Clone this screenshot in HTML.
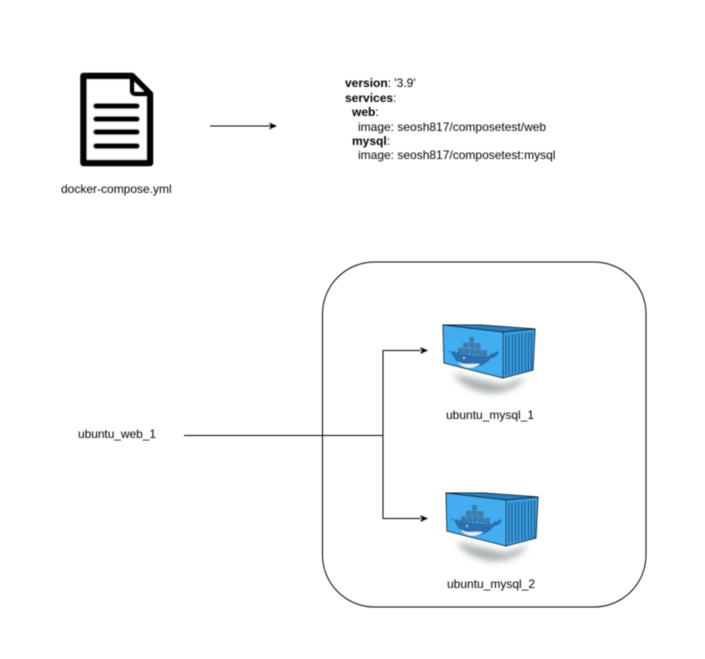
<!DOCTYPE html>
<html>
<head>
<meta charset="utf-8">
<style>
html,body{margin:0;padding:0;background:#fff;}
body{width:705px;height:659px;overflow:hidden;}
svg{display:block;}
text{font-family:"Liberation Sans",Arial,sans-serif;font-size:12px;fill:#000;}
</style>
</head>
<body>
<svg width="705" height="659" viewBox="0 0 705 659" xmlns="http://www.w3.org/2000/svg">
<defs>
<filter id="b" x="-30%" y="-80%" width="160%" height="260%"><feGaussianBlur stdDeviation="3.500"/></filter>
<filter id="all" filterUnits="userSpaceOnUse" x="0" y="0" width="705" height="659"><feGaussianBlur stdDeviation="0.4"/></filter>
<g id="box">
<path d="M10 49 L60 60 L82 52 Q72 68 46 68 Q22 65 10 49 Z" fill="#a9adad" filter="url(#b)"/>
<polygon points="0,0 60,7 60,53 1,38" fill="#42adf0" stroke="#08202f" stroke-width="1"/>
<polygon points="60,7 92,4 90,45 60,53" fill="#3a9fe2" stroke="#08202f" stroke-width="1"/>
<polygon points="0,0 60,7 92,4 38,0" fill="#2c7fb8" stroke="#08202f" stroke-width="1"/>
<g stroke="#154f7e" stroke-width="1.100" fill="none">
<path d="M63,10 L63,50 M66,9.700 L66,49.500 M69.500,9.400 L69.500,48.500 M72.500,9 L72.500,48 M76,8.700 L76,47.200 M79,8.400 L79,46.700 M82.500,8 L82.500,46 M85.500,7.700 L85.500,45.500 M88.500,7.400 L88.500,45"/>
</g>
<g fill="#3f7aa8">
<rect x="26" y="12" width="5" height="5"/>
<rect x="20" y="17.500" width="5.500" height="5.500"/>
<rect x="26" y="17.500" width="5.500" height="5.500"/>
<rect x="32" y="18" width="5.500" height="5.500"/>
<rect x="15" y="23" width="5.500" height="5"/>
<rect x="21" y="23.500" width="5.500" height="5"/>
<rect x="27" y="23.500" width="5.500" height="5"/>
<rect x="33" y="24" width="5.500" height="5"/>
<rect x="39" y="25" width="5" height="5"/>
</g>
<path d="M8,27 C20,29 38,31 46,31 C48,28 50,27 51,29 C53,25 57,26 55,29 C53,32 50,33 48,33 C43,41 31,44 23,42 C15,40 11,34 8,27 Z" fill="#2a6fae"/>
<path d="M14,36 C20,41 28,38 37,39 C31,44 20,45 14,36 Z" fill="#e3f1f9"/>
<path d="M5,26.500 L44,30" stroke="#1c4f7d" stroke-width="0.8" stroke-dasharray="3 1.500"/>
<circle cx="21" cy="33" r="0.900" fill="#d6ecf8"/>
</g>
</defs>

<g filter="url(#all)">
<!-- document icon -->
<path d="M83.500 76 H132 L150 94 V163 H83.500 Z" fill="#fff" stroke="#000" stroke-width="6.500" stroke-linejoin="round"/>
<path d="M132 76 V90 Q132 94 136 94 H150 Z" fill="#fff" stroke="#000" stroke-width="5" stroke-linejoin="round"/>
<g stroke="#000" stroke-width="5.500" stroke-linecap="round">
<line x1="96" y1="106" x2="137" y2="106"/>
<line x1="96" y1="119" x2="137" y2="119"/>
<line x1="96" y1="132" x2="137" y2="132"/>
<line x1="96" y1="146" x2="137" y2="146"/>
</g>
<text x="61" y="193">docker-compose.yml</text>

<!-- top arrow -->
<line x1="210" y1="126" x2="271" y2="126" stroke="#000" stroke-width="1"/>
<polygon points="277,126 269,122.500 271,126 269,129.500" fill="#000"/>

<!-- yaml -->
<text x="345" y="87"><tspan font-weight="bold">version</tspan>: '3.9'</text>
<text x="345" y="102"><tspan font-weight="bold">services</tspan>:</text>
<text x="352" y="116"><tspan font-weight="bold">web</tspan>:</text>
<text x="358" y="131">image: seosh817/composetest/web</text>
<text x="352" y="145"><tspan font-weight="bold">mysql</tspan>:</text>
<text x="358" y="159">image: seosh817/composetest:mysql</text>

<!-- rounded boundary -->
<rect x="322.500" y="262" width="323.500" height="345" rx="52" ry="52" fill="none" stroke="#000" stroke-width="1"/>

<!-- connectors -->
<text x="78" y="438" textLength="78">ubuntu_web_1</text>
<g stroke="#000" stroke-width="1" fill="none">
<line x1="184" y1="435.500" x2="383" y2="435.500"/>
<path d="M421 350.500 H383 V518.500 H421"/>
</g>
<polygon points="428,350.500 420,347 422,350.500 420,354" fill="#000"/>
<polygon points="428,518.500 420,515 422,518.500 420,522" fill="#000"/>

<!-- containers -->
<use href="#box" x="443" y="325"/>
<text x="446" y="419">ubuntu_mysql_1</text>
<use href="#box" x="446" y="493"/>
<text x="447" y="588">ubuntu_mysql_2</text>
</g>
</svg>
</body>
</html>
